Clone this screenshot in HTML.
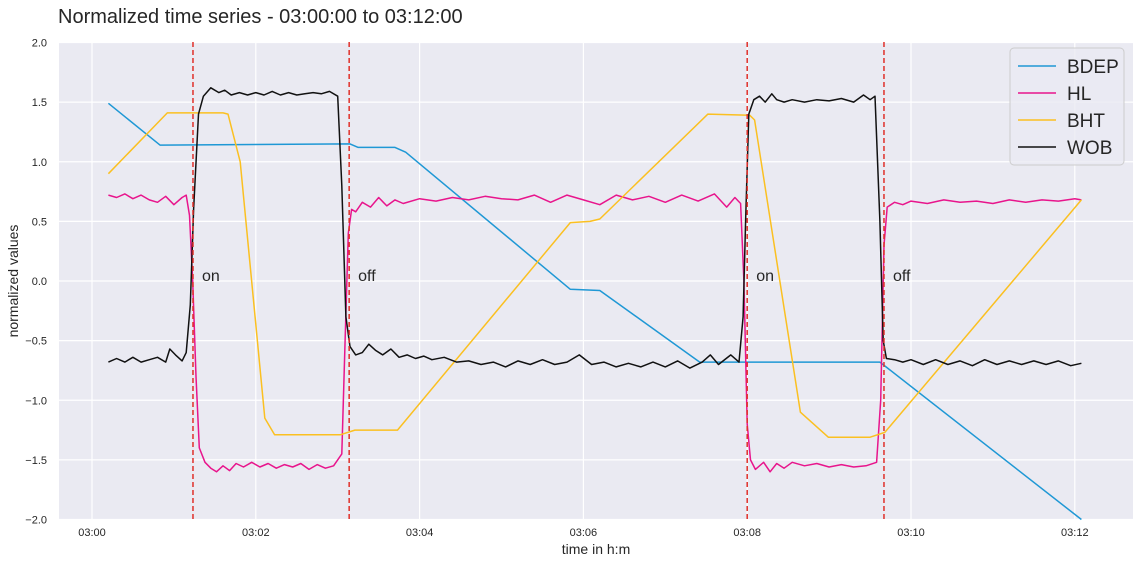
<!DOCTYPE html>
<html><head><meta charset="utf-8"><style>
body{margin:0;background:#fff;width:1140px;height:564px;overflow:hidden;font-family:"Liberation Sans",sans-serif}
svg text{font-family:"Liberation Sans",sans-serif}
</style></head><body>
<svg id="chart" width="1140" height="564" xmlns="http://www.w3.org/2000/svg">
<text x="58" y="23" font-size="20" fill="#262626">Normalized time series - 03:00:00 to 03:12:00</text>
<rect x="59" y="42" width="1074" height="477" fill="#eaeaf2"/>
<g id="grid"></g><g id="axes"></g><g id="marks"></g>
<text transform="translate(18,281) rotate(-90)" text-anchor="middle" font-size="14" fill="#262626">normalized values</text>
<text x="596" y="554" text-anchor="middle" font-size="14" fill="#262626">time in h:m</text>
<g id="legend"></g>
</svg>
<script>
const xTicks=[0,2,4,6,8,10,12];
const xTickLabels=["03:00","03:02","03:04","03:06","03:08","03:10","03:12"];
const yTicks=[-2,-1.5,-1,-0.5,0,0.5,1,1.5,2];
const yTickLabels=["−2.0","−1.5","−1.0","−0.5","0.0","0.5","1.0","1.5","2.0"];
const seriesNames=["BDEP","HL","BHT","WOB"];
const seriesColors=["#1f98d5","#e8158c","#fbc021","#111111"];
const bdepT=[0.2,0.83,3.15,3.25,3.70,3.83,5.84,6.2,7.42,9.62,12.08];
const bdepV=[1.49,1.14,1.15,1.12,1.12,1.08,-0.07,-0.08,-0.68,-0.68,-2.0];
const bhtT=[0.2,0.92,1.6,1.66,1.81,2.11,2.23,3.03,3.21,3.73,5.84,6.08,6.2,7.52,8.03,8.09,8.65,8.99,9.5,9.68,12.08];
const bhtV=[0.90,1.41,1.41,1.40,1.0,-1.15,-1.29,-1.29,-1.25,-1.25,0.49,0.50,0.52,1.40,1.39,1.35,-1.10,-1.31,-1.31,-1.27,0.68];
const hlT=[0.2,0.3,0.4,0.5,0.6,0.7,0.8,0.9,1.0,1.1,1.15,1.19,1.23,1.27,1.31,1.38,1.45,1.52,1.6,1.68,1.76,1.85,1.95,2.05,2.15,2.25,2.35,2.45,2.55,2.65,2.75,2.85,2.95,3.05,3.09,3.13,3.17,3.22,3.3,3.4,3.5,3.6,3.7,3.8,4.0,4.2,4.4,4.6,4.8,5.0,5.2,5.4,5.6,5.8,6.0,6.2,6.4,6.6,6.8,7.0,7.2,7.4,7.6,7.75,7.85,7.92,7.96,8.0,8.04,8.1,8.2,8.28,8.36,8.45,8.55,8.7,8.85,9.0,9.15,9.3,9.45,9.58,9.63,9.67,9.71,9.8,9.9,10.0,10.2,10.4,10.6,10.8,11.0,11.2,11.4,11.6,11.8,12.0,12.08];
const hlV=[0.72,0.70,0.73,0.69,0.72,0.68,0.66,0.71,0.64,0.70,0.72,0.55,0.0,-0.8,-1.4,-1.52,-1.57,-1.60,-1.55,-1.59,-1.53,-1.56,-1.52,-1.56,-1.53,-1.57,-1.54,-1.56,-1.53,-1.58,-1.54,-1.57,-1.55,-1.45,-0.5,0.4,0.60,0.58,0.66,0.62,0.70,0.63,0.68,0.65,0.69,0.67,0.70,0.68,0.71,0.69,0.68,0.72,0.66,0.72,0.68,0.64,0.72,0.68,0.71,0.66,0.72,0.67,0.73,0.62,0.70,0.65,0.0,-1.2,-1.5,-1.58,-1.52,-1.60,-1.53,-1.57,-1.52,-1.55,-1.53,-1.56,-1.54,-1.56,-1.55,-1.52,-1.0,0.3,0.62,0.66,0.64,0.67,0.65,0.68,0.66,0.67,0.65,0.68,0.66,0.68,0.67,0.69,0.68];
const wobT=[0.2,0.3,0.4,0.5,0.6,0.7,0.8,0.9,0.95,1.02,1.1,1.15,1.2,1.24,1.3,1.36,1.45,1.55,1.62,1.7,1.8,1.9,2.0,2.1,2.2,2.3,2.4,2.5,2.6,2.7,2.8,2.9,3.0,3.05,3.1,3.15,3.22,3.3,3.38,3.46,3.55,3.65,3.75,3.85,3.95,4.05,4.15,4.3,4.45,4.6,4.75,4.9,5.05,5.2,5.35,5.5,5.65,5.8,5.95,6.1,6.25,6.4,6.55,6.7,6.85,7.0,7.15,7.3,7.45,7.55,7.65,7.8,7.9,7.95,7.98,8.02,8.08,8.15,8.22,8.3,8.36,8.45,8.55,8.7,8.85,9.0,9.15,9.3,9.42,9.5,9.56,9.62,9.66,9.7,9.8,9.9,10.0,10.15,10.3,10.45,10.6,10.75,10.9,11.05,11.2,11.35,11.5,11.65,11.8,11.95,12.08];
const wobV=[-0.68,-0.65,-0.68,-0.64,-0.68,-0.66,-0.64,-0.68,-0.57,-0.62,-0.67,-0.6,-0.2,0.6,1.4,1.55,1.62,1.58,1.60,1.56,1.58,1.56,1.58,1.56,1.59,1.56,1.58,1.56,1.57,1.58,1.57,1.59,1.55,0.8,-0.3,-0.55,-0.62,-0.60,-0.53,-0.58,-0.62,-0.57,-0.64,-0.62,-0.65,-0.63,-0.66,-0.64,-0.68,-0.67,-0.70,-0.68,-0.72,-0.67,-0.70,-0.66,-0.70,-0.68,-0.62,-0.70,-0.68,-0.72,-0.69,-0.72,-0.68,-0.72,-0.67,-0.73,-0.68,-0.62,-0.70,-0.62,-0.68,-0.3,0.5,1.4,1.52,1.55,1.50,1.57,1.52,1.50,1.52,1.50,1.52,1.51,1.53,1.50,1.56,1.52,1.55,0.5,-0.5,-0.65,-0.66,-0.68,-0.66,-0.70,-0.66,-0.70,-0.67,-0.71,-0.66,-0.70,-0.67,-0.70,-0.67,-0.70,-0.67,-0.71,-0.69];
const eventT=[1.233,3.14,8.0,9.67];
const eventLabels=["on","off","on","off"];

const NS="http://www.w3.org/2000/svg";
const X=t=>92+t*81.9;
const Y=v=>281-v*119.25;
function mk(tag,attrs,parent){const e=document.createElementNS(NS,tag);for(const k in attrs)e.setAttribute(k,attrs[k]);parent.appendChild(e);return e;}
const grid=document.getElementById('grid'),axes=document.getElementById('axes'),marks=document.getElementById('marks');
xTicks.forEach((t,i)=>{
  const l=mk('line',{x1:X(t),x2:X(t),y1:42,y2:519,stroke:'#fff','stroke-width':1.2},grid);
  
  
  const tx=mk('text',{x:X(t),y:536,'text-anchor':'middle','font-size':11,fill:'#262626'},axes);
  tx.textContent=xTickLabels[i];
  
  
});
yTicks.forEach((v,i)=>{
  const l=mk('line',{x1:59,x2:1133,y1:Y(v),y2:Y(v),stroke:'#fff','stroke-width':1.2},grid);
  
  
  const tx=mk('text',{x:47,y:Y(v)+4,'text-anchor':'end','font-size':11,fill:'#262626'},axes);
  tx.textContent=yTickLabels[i];
  
  
});
const allT=[bdepT,hlT,bhtT,wobT],allV=[bdepV,hlV,bhtV,wobV];
allT.forEach((ts,s)=>{
  const d=ts.map((t,i)=>(i?'L':'M')+X(t).toFixed(1)+','+Y(allV[s][i]).toFixed(1)).join('');
  const p=mk('path',{d:d,fill:'none',stroke:seriesColors[s],'stroke-width':1.5,'stroke-linejoin':'round'},marks);
  
  
});
eventT.forEach((t,i)=>{
  const l=mk('line',{x1:X(t),x2:X(t),y1:42,y2:519,stroke:'#e0302a','stroke-width':1.5,'stroke-dasharray':'5,3'},marks);
  
  
  const tx=mk('text',{x:X(t)+9,y:281,'font-size':16,fill:'#262626'},marks);
  tx.textContent=eventLabels[i];
  
  
});
const lg=document.getElementById('legend');
const box=mk('rect',{x:1010,y:48,width:114,height:117,rx:4,fill:'#eaeaf2',stroke:'#cccccc','fill-opacity':0.8},lg);


seriesNames.forEach((n,i)=>{
  const y=66+i*27;
  const l=mk('line',{x1:1018,x2:1056,y1:y,y2:y,stroke:seriesColors[i],'stroke-width':1.5},lg);
  
  
  const tx=mk('text',{x:1067,y:y+7,'font-size':19,fill:'#262626'},lg);
  tx.textContent=n;
  
  
});
</script>
</body></html>
